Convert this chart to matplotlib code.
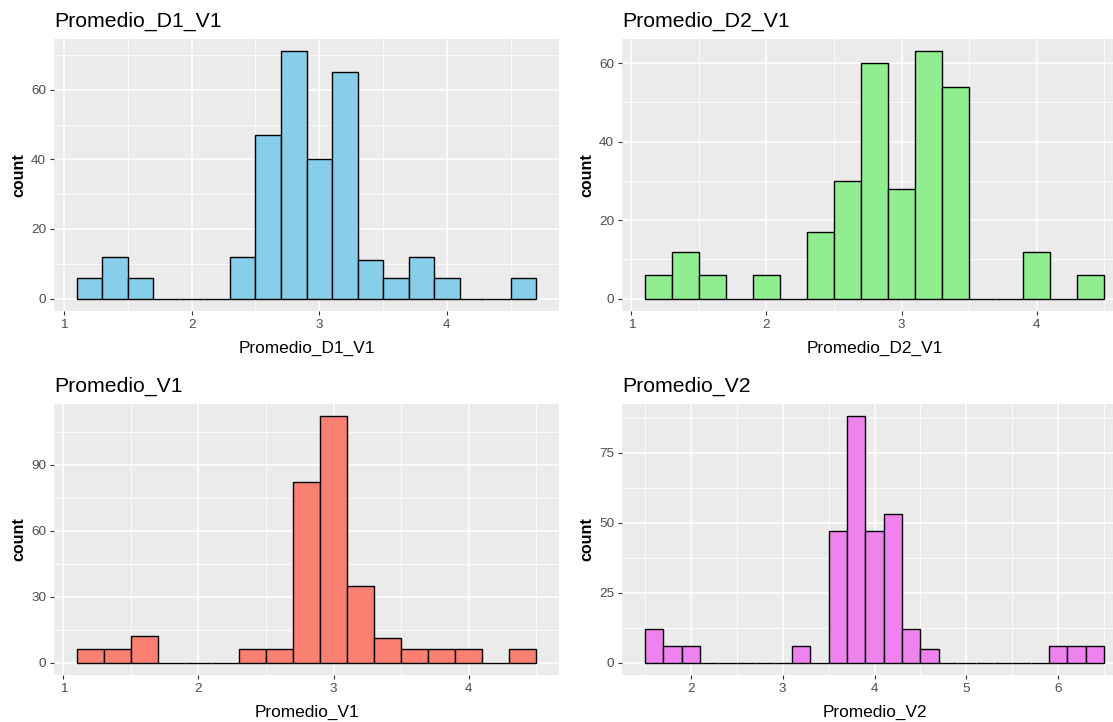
import numpy as np
import matplotlib
matplotlib.use("Agg")
import matplotlib.pyplot as plt

plt.rcParams['font.family'] = ['Liberation Sans', 'DejaVu Sans']

# histogram counts, bins are 0.2 wide
bin_width = 0.2
titles = ['Promedio_D1_V1', 'Promedio_D2_V1', 'Promedio_V1', 'Promedio_V2']
fills = ['#87CEEB', '#90EE90', '#FA8072', '#EE82EE']
bin_starts = [1.1, 1.1, 1.1, 1.5]

counts_d1_v1 = [6, 12, 6, 0, 0, 0, 12, 47, 71, 40, 65, 11, 6, 12, 6, 0, 0, 6]
counts_d2_v1 = [6, 12, 6, 0, 6, 0, 17, 30, 60, 28, 63, 54, 0, 0, 12, 0, 6]
counts_v1 = [6, 6, 12, 0, 0, 0, 6, 6, 82, 112, 35, 11, 6, 6, 6, 0, 6]
counts_v2 = [12, 6, 6, 0, 0, 0, 0, 0, 6, 0, 47, 88, 47, 53, 12, 5,
             0, 0, 0, 0, 0, 0, 6, 6, 6]
all_counts = [counts_d1_v1, counts_d2_v1, counts_v1, counts_v2]

x_ticks = [[1, 2, 3, 4], [1, 2, 3, 4], [1, 2, 3, 4], [2, 3, 4, 5, 6]]
y_ticks = [[0, 20, 40, 60], [0, 20, 40, 60], [0, 30, 60, 90], [0, 25, 50, 75]]

W, H = 1113, 722
fig = plt.figure(figsize=(W / 100, H / 100), dpi=100)

# panel boxes in pixels: left, top, width, height (right column runs off the edge)
boxes = [(54, 39, 505, 272), (622, 39, 505, 272),
         (54, 404, 505, 271), (622, 404, 505, 271)]

for i in range(4):
    l, t, w, h = boxes[i]
    ax = fig.add_axes([l / W, 1 - (t + h) / H, w / W, h / H])
    counts = np.array(all_counts[i])
    lefts = bin_starts[i] + bin_width * np.arange(len(counts))

    ax.bar(lefts, counts, width=bin_width, align='edge', color=fills[i],
           edgecolor='black', linewidth=1.0, zorder=3)

    xt = x_ticks[i]
    yt = y_ticks[i]
    ax.set_xticks(xt)
    ax.set_yticks(yt)
    ax.set_xticklabels([str(v) for v in xt])
    ax.set_yticklabels([str(v) for v in yt])
    step_x = xt[1] - xt[0]
    step_y = yt[1] - yt[0]
    ax.set_xticks(np.arange(xt[0] - step_x / 2, xt[-1] + step_x, step_x), minor=True)
    ax.set_yticks(np.arange(yt[0] + step_y / 2, yt[-1] + step_y, step_y), minor=True)

    # ggplot style 5% expansion (set after ticks so they don't widen the view)
    x0, x1 = lefts[0], lefts[-1] + bin_width
    xr = x1 - x0
    ax.set_xlim(x0 - 0.05 * xr, x1 + 0.05 * xr)
    ym = counts.max()
    ax.set_ylim(-0.05 * ym, 1.05 * ym)

    ax.set_facecolor('#EBEBEB')
    for s in ax.spines.values():
        s.set_visible(False)
    ax.grid(True, which='major', color='white', linewidth=1.1, zorder=0)
    ax.grid(True, which='minor', color='white', linewidth=0.55, zorder=0)
    ax.set_axisbelow(True)
    ax.tick_params(which='major', length=2.7, width=0.8, color='#333333',
                   labelcolor='#4D4D4D', labelsize=9.7, pad=3)
    ax.tick_params(which='minor', length=0)

    ax.set_title(titles[i], loc='left', fontsize=15.3, pad=8.6, color='black')
    ax.annotate(titles[i], xy=(0.5, 0), xycoords='axes fraction',
                xytext=(0, -30), textcoords='offset points',
                ha='center', va='baseline', fontsize=12.4, color='black')
    ax.annotate('count', xy=(0, 0.5), xycoords='axes fraction',
                xytext=(-25.5, 0), textcoords='offset points',
                ha='center', va='center', rotation=90, fontsize=11.5,
                fontweight='bold', color='black')

fig.savefig('out.png', dpi=100)
